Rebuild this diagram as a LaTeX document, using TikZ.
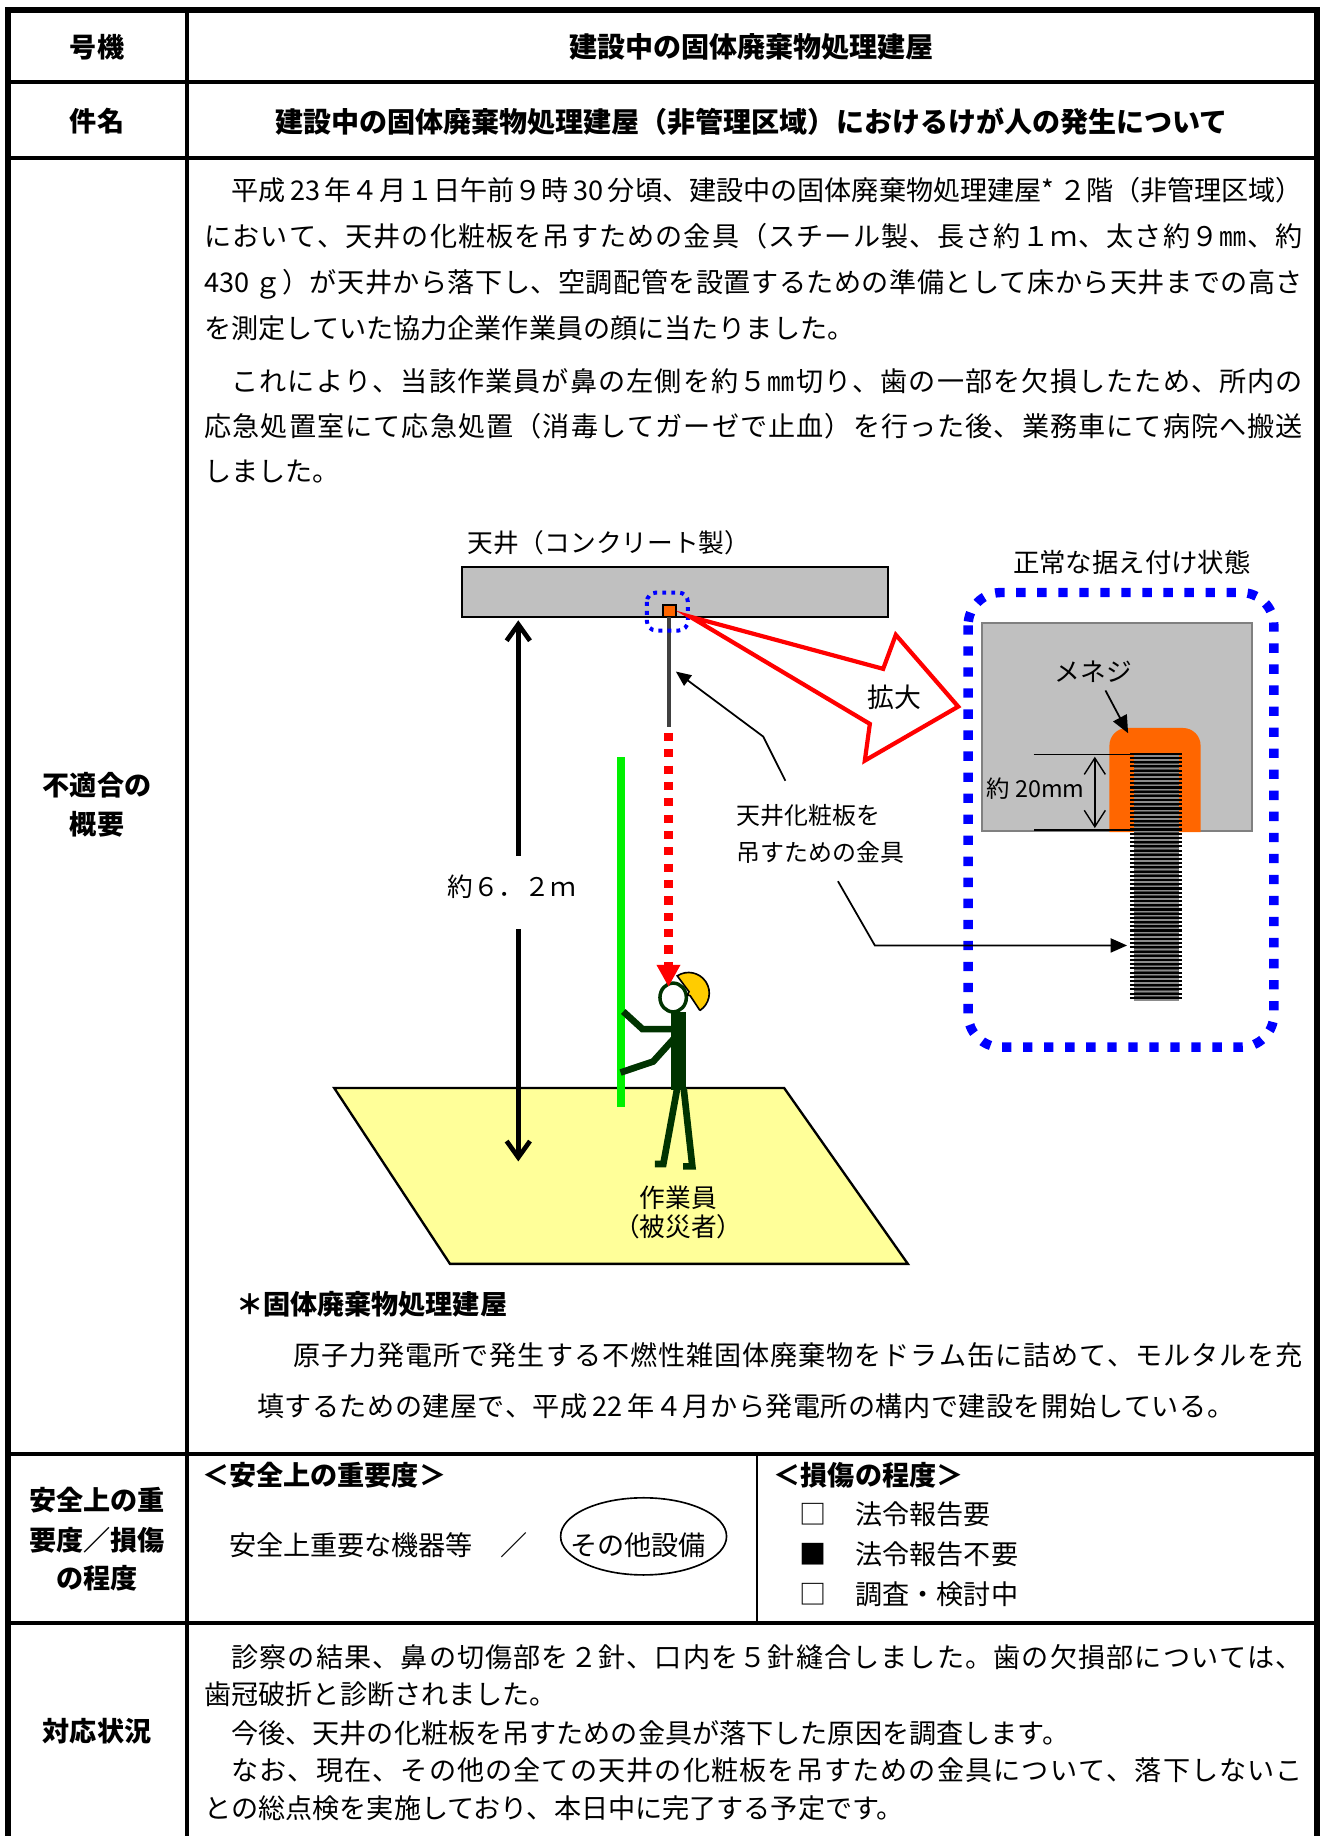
\documentclass[tikz,border=0pt]{standalone}
\usepackage{fontspec}
\setmainfont{Noto Sans CJK JP}
\usetikzlibrary{arrows.meta,shapes.geometric}
\definecolor{cgray}{RGB}{192,192,192}
\definecolor{edgegray}{RGB}{128,128,128}
\definecolor{menezi}{RGB}{255,102,0}
\definecolor{boltc}{RGB}{72,72,72}
\definecolor{boltl}{RGB}{140,140,140}
\definecolor{rodc}{RGB}{64,64,64}
\definecolor{pgreen}{RGB}{0,51,0}
\definecolor{polec}{RGB}{0,240,0}
\definecolor{helmc}{RGB}{255,204,0}
\definecolor{floorc}{RGB}{255,255,153}
\ExplSyntaxOn
\NewDocumentCommand\jline{mm}{\hbox_to_wd:nn{#1}{\tl_map_inline:nn{#2}{##1\hskip~0pt~plus~1fil~minus~2pt\relax}\unskip}}
\ExplSyntaxOff
\begin{document}
\begin{tikzpicture}[x=0.5pt,y=-0.5pt,
 every node/.style={inner sep=0pt,outer sep=0pt},
 bt/.style={font=\fontsize{11.6pt}{14pt}\selectfont,text height=10.2pt,text depth=1.4pt},
 hb/.style={font=\fontsize{11.6pt}{14pt}\selectfont\bfseries,text height=10.2pt,text depth=1.4pt},
 hbig/.style={font=\fontsize{12pt}{14pt}\selectfont\bfseries,text height=10.5pt,text depth=1.4pt},
 dl/.style={font=\fontsize{11pt}{13pt}\selectfont,text height=9.7pt,text depth=1.3pt},
 sl/.style={font=\fontsize{10.25pt}{12pt}\selectfont,text height=9pt,text depth=1.2pt},
 border/.style={line width=2.4pt},
 rowline/.style={line width=1.6pt},
 leader/.style={line width=0.75pt,-{Triangle[length=6.5pt,width=5.5pt]}},
 pers/.style={pgreen,line width=2.85pt},
]
\useasboundingbox (0,0) rectangle (1131,1571);
% ---------- table ----------
\draw[border] (7,1571) -- (7,8.5) -- (1127,8.5) -- (1127,1571);
\draw[line width=2pt] (160,8.5) -- (160,1571);
\foreach \yy in {70,135,1244,1389} \draw[rowline] (7,\yy) -- (1127,\yy);
\draw[line width=0.75pt] (648,1244) -- (648,1389);
% labels
\node[hb] (lab1) at (83,40) {号機};
\node[hb] (lab2) at (83,104) {件名};
\node[hb] (lab3a) at (83,672) {不適合の};
\node[hb] (lab3b) at (83,705) {概要};
\node[hb] (lab4a) at (83,1284) {安全上の重};
\node[hb] (lab4b) at (83,1318) {要度／損傷};
\node[hb] (lab4c) at (83,1350) {の程度};
\node[hb] (lab5) at (83,1481.5) {対応状況};
% headers
\node[hbig] (h1) at (643,40) {建設中の固体廃棄物処理建屋};
\node[hbig] (h2) at (643,104) {建設中の固体廃棄物処理建屋（非管理区域）におけるけが人の発生について};
% body
\node[bt,anchor=west] (b1) at (198,162.5) {\jline{458.5pt}{平成{\,23\,}年４月１日午前９時{\,30\,}分頃、建設中の固体廃棄物処理建屋{*\,}２階（非管理区域）}};
\node[bt,anchor=west] (b2) at (175,202) {\jline{470pt}{において、天井の化粧板を吊すための金具（スチール製、長さ約１ｍ、太さ約９㎜、約}};
\node[bt,anchor=west] (b3) at (175,241.5) {\jline{470pt}{{430\,}ｇ）が天井から落下し、空調配管を設置するための準備として床から天井までの高さ}};
\node[bt,anchor=west] (b4) at (175,281) {を測定していた協力企業作業員の顔に当たりました。};
\node[bt,anchor=west] (b5) at (198,326) {\jline{458.5pt}{これにより、当該作業員が鼻の左側を約５㎜切り、歯の一部を欠損したため、所内の}};
\node[bt,anchor=west] (b6) at (175,365) {\jline{470pt}{応急処置室にて応急処置（消毒してガーゼで止血）を行った後、業務車にて病院へ搬送}};
\node[bt,anchor=west] (b7) at (175,403) {しました。};
% footnote
\node[hb,anchor=west] (f0) at (202,1116) {＊固体廃棄物処理建屋};
\node[bt,anchor=west] (f1) at (251,1159.7) {\jline{432pt}{原子力発電所で発生する不燃性雑固体廃棄物をドラム缶に詰めて、モルタルを充}};
\node[bt,anchor=west] (f2) at (220,1203.3) {\jline{418pt}{填するための建屋で、平成{\,22\,}年４月から発電所の構内で建設を開始している。}};
% safety row
\node[hb,anchor=west] (s1) at (173,1262) {＜安全上の重要度＞};
\node[bt,anchor=west] (s2) at (196,1322) {安全上重要な機器等};
\node[bt] (s3) at (440,1322) {／};
\node[draw,ellipse,line width=0.7pt,minimum width=71pt,minimum height=33pt] (oval) at (550.7,1314.6) {};
\node[bt] (s4) at (546,1322) {その他設備};
\node[hb,anchor=west] (d0) at (662,1262) {＜損傷の程度＞};
\node[bt] (c1) at (696,1296) {□};
\node[bt,anchor=west] (t1) at (732,1296) {法令報告要};
\node[bt] (c2) at (696,1329.6) {■};
\node[bt,anchor=west] (t2) at (732,1329.6) {法令報告不要};
\node[bt] (c3) at (696,1364.2) {□};
\node[bt,anchor=west] (t3) at (732,1364.2) {調査・検討中};
% response
\node[bt,anchor=west] (r1) at (198,1418.3) {\jline{458.5pt}{診察の結果、鼻の切傷部を２針、口内を５針縫合しました。歯の欠損部については、}};
\node[bt,anchor=west] (r2) at (175,1450) {歯冠破折と診断されました。};
\node[bt,anchor=west] (r3) at (198,1483) {今後、天井の化粧板を吊すための金具が落下した原因を調査します。};
\node[bt,anchor=west] (r4) at (198,1514.5) {\jline{458.5pt}{なお、現在、その他の全ての天井の化粧板を吊すための金具について、落下しないこ}};
\node[bt,anchor=west] (r5) at (175,1547.6) {との総点検を実施しており、本日中に完了する予定です。};
% ---------- diagram ----------
% floor
\draw[fill=floorc,line width=1pt,line join=miter] (286,931) -- (671,931) -- (776.8,1081.4) -- (385,1081.4) -- cycle;
% ceiling
\node[dl] (ceillab) at (521,464.5) {天井（コンクリート製）};
\draw[fill=cgray,line width=0.8pt] (395,485) rectangle (759.7,527.6);
\draw[fill=menezi,line width=0.8pt] (567.5,517.6) rectangle (578.5,527.6);
\coordinate (rodtop) at (572.6,527.6);
\coordinate (rodbot) at (572.6,621.7);
\draw[rodc,line width=1.7pt] (rodtop) -- (rodbot);
\draw[blue,line width=1.7pt,dash pattern=on 1.7pt off 2.15pt,rounded corners=4pt] (553.5,507) rectangle (588.6,539.5);
% callout arrow
\draw[red,line width=1.8pt,fill=white,line join=miter] (590.3,527.6) -- (755.7,572.3) -- (766.5,543.2) -- (819.9,604.6) -- (740,650.8) -- (744.3,619.4) -- cycle;
\node[dl,font=\fontsize{11.5pt}{13pt}\selectfont] (kakudai) at (765.5,596.7) {拡大};
% height arrow
\node[dl] (hlab) at (437.8,759) {約６．２ｍ};
\coordinate (hup0) at (443.5,732.2);
\coordinate (hup1) at (443.5,530.8);
\coordinate (hdn0) at (443.5,795);
\coordinate (hdn1) at (443.5,993.8);
\draw[line width=2pt,-{Straight Barb[length=7pt,width=10pt]}] (hup0) -- (hup1);
\draw[line width=2pt,-{Straight Barb[length=7pt,width=10pt]}] (hdn0) -- (hdn1);
% pole
\draw[polec,line width=3.3pt] (531.4,647.8) -- (531.4,947.3);
% person
\draw[pers,line width=6.4pt] (580.6,866) -- (580.6,933);
\draw[pers,line join=miter] (579.5,931) -- (567.6,996) -- (560.4,996);
\draw[pers,line join=miter] (585,931) -- (592.4,998) -- (584.5,998);
\draw[pers,line join=miter] (578,880.6) -- (549.8,880.6) -- (533.3,865.5);
\draw[pers,line join=miter] (577,888.3) -- (558.9,908.3) -- (531,917.7);
\draw[pgreen,line width=1.5pt,fill=white] (576,853.5) ellipse[x radius=11.3,y radius=12.3];
\draw[black,line width=0.7pt,fill=helmc] (598.9,864.6) -- (590.6,852) -- (588.2,851.3) -- (589.6,848.6) -- (579.5,835) arc[start angle=-123.2,end angle=56.8,radius=17.7] -- cycle;
% falling bracket (red)
\coordinate (fall0) at (572,627);
\coordinate (fall1) at (572,826);
\coordinate (fallt) at (572,844);
\draw[red,line width=3.5pt,dash pattern=on 3.5pt off 3.5pt] (fall0) -- (fall1);
\fill[red] (561.7,825.6) -- (582.3,825.6) -- (fallt) -- cycle;
\node[dl] (w1) at (580.5,1025) {作業員};
\node[dl] (w2) at (580.5,1049.4) {（被災者）};
% leader to rod
\node[sl,anchor=west] (kl1) at (630.5,697.8) {天井化粧板を};
\node[sl,anchor=west] (kl2) at (630.5,729) {吊すための金具};
\coordinate (ld1a) at (672,668);
\coordinate (ld1b) at (653,630.2);
\coordinate (ld1c) at (578.3,574.6);
\draw[leader] (ld1a) -- (ld1b) -- (ld1c);
% detail view
\node[dl,font=\fontsize{11.3pt}{13pt}\selectfont] (normal) at (968.5,481.5) {正常な据え付け状態};
\draw[fill=cgray,draw=edgegray,line width=0.8pt] (840.2,533.2) rectangle (1071.6,711.3);
\fill[menezi,rounded corners=7.5pt] (949.3,711.9) -- (949.3,622.9) -- (1027.3,622.9) -- (1027.3,711.9);
\fill[boltc] (970,643.9) rectangle (1008.7,855);
\foreach \yy in {645,648.6,...,855} {
  \draw[black,line width=0.9pt] (967.3,\yy) -- (1011.4,\yy);
  \draw[boltl,line width=0.6pt] (970,\yy+1.8) -- (1008.7,\yy+1.8);
}
\node[dl] (menezilab) at (935.7,574.4) {メネジ};
\coordinate (mz0) at (945.9,590.8);
\coordinate (mz1) at (965.3,627.4);
\draw[line width=0.75pt,-{Triangle[length=7.5pt,width=6.5pt]}] (mz0) -- (mz1);
\draw[line width=0.75pt] (884.5,645.5) -- (968.4,645.5);
\draw[line width=0.9pt] (885,710.5) -- (968,710.5);
\coordinate (dm0) at (936.8,647.5);
\coordinate (dm1) at (936.8,708.5);
\draw[line width=0.6pt,{Straight Barb[length=7pt,width=9pt]}-{Straight Barb[length=7pt,width=9pt]}] (dm0) -- (dm1);
\node[font=\fontsize{10pt}{12pt}\selectfont,text height=8.8pt,text depth=1.2pt] (dimlab) at (886,674.5) {約 20mm};
\draw[blue,line width=4pt,dash pattern=on 4pt off 5pt,rounded corners=14pt] (828.4,507) rectangle (1090,896);
\coordinate (ld2a) at (717,754);
\coordinate (ld2b) at (748.6,809);
\coordinate (ld2c) at (964.4,809);
\draw[line width=0.75pt,-{Triangle[length=7pt,width=6pt]}] (ld2a) -- (ld2b) -- (ld2c);
\end{tikzpicture}
\end{document}
